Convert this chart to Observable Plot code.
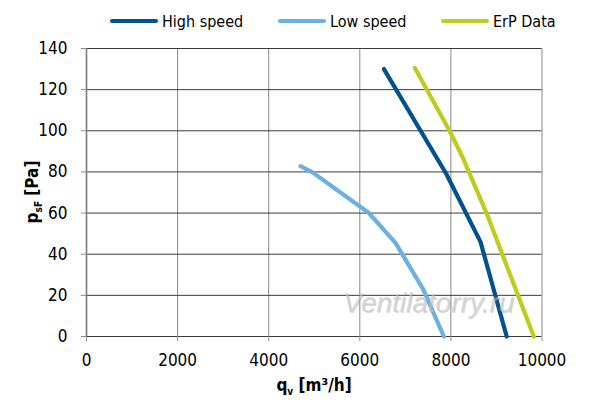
<!DOCTYPE html>
<html>
<head>
<meta charset="utf-8">
<script src="https://cdn.jsdelivr.net/npm/d3@7"></script>
<script src="https://cdn.jsdelivr.net/npm/@observablehq/plot@0.6"></script>
<style>
  body { margin: 0; background: #fff; }
  #wrap { position: relative; width: 600px; height: 406px; font-family: "DejaVu Sans Condensed", sans-serif; }
  #legend { position: relative; height: 40px; }
  .item { position: absolute; top: 10px; height: 22px; display: flex; align-items: center; font-size: 16px; color: #000; white-space: nowrap; }
  .sw { display: inline-block; width: 48px; height: 4px; border-radius: 2px; margin-right: 4px; }
  #wm { position: absolute; left: 343px; top: 287px; font-family: "Liberation Sans", Arial, sans-serif; font-style: italic; font-size: 28px; color: rgba(205,205,205,0.6); pointer-events: none; text-shadow: 1px 1px 0 rgba(140,140,140,0.35); }
</style>
</head>
<body>
<div id="wrap">
  <div id="legend"></div>
  <div id="chart"></div>
  <div id="wm">Ventilatorry.ru</div>
</div>
<script>
// ---- data ----
const seriesNames = ["High speed", "Low speed", "ErP Data"];
const seriesColors = ["#05508f", "#6cb0e2", "#bfcc1e"];

const highX = [6530, 7900, 8650, 9225];
const highY = [130, 79, 46, 0];

const lowX = [4698, 4955, 6200, 6784, 7390, 7845];
const lowY = [82.8, 79.9, 60.0, 45.5, 23.0, 0];

const erpX = [7207, 7970, 8260, 8782, 9820];
const erpY = [130.6, 100, 87, 60, 0];

const xTicks = [0, 2000, 4000, 6000, 8000, 10000];
const yTicks = [0, 20, 40, 60, 80, 100, 120, 140];

// ---- build table ----
const table = [];
[[highX, highY], [lowX, lowY], [erpX, erpY]].forEach(([xs, ys], i) => {
  xs.forEach((x, j) => table.push({series: seriesNames[i], q: x, p: ys[j]}));
});

// ---- legend ----
const legendLeft = [110, 278, 441];
const legend = document.getElementById("legend");
seriesNames.forEach((n, i) => {
  const it = document.createElement("div");
  it.className = "item";
  it.style.left = legendLeft[i] + "px";
  it.innerHTML = `<span class="sw" style="background:${seriesColors[i]}"></span><span>${n}</span>`;
  legend.appendChild(it);
});

// ---- chart ----
const chart = Plot.plot({
  width: 600,
  height: 366,
  marginTop: 8,
  marginBottom: 70,
  marginLeft: 86,
  marginRight: 58.5,
  style: {fontFamily: '"DejaVu Sans Condensed", sans-serif', fontSize: "17px", color: "#000", background: "#fff", overflow: "visible"},
  x: {domain: [0, 10000]},
  y: {domain: [0, 140]},
  color: {domain: seriesNames, range: seriesColors},
  marks: [
    Plot.gridX(xTicks, {stroke: "#8a8a8a", strokeOpacity: 1}),
    Plot.gridY(yTicks, {stroke: "#3a3a3a", strokeOpacity: 1}),
    Plot.axisX(xTicks, {tickSize: 5, tickPadding: 12, stroke: "#8a8a8a", label: null, tickFormat: d3.format("d")}),
    Plot.axisY(yTicks, {tickSize: 5, tickPadding: 14, stroke: "#8a8a8a", label: null, tickFormat: d3.format("d")}),
    Plot.ruleX([0], {stroke: "#7a7a7a", strokeWidth: 1.6}),
    Plot.line(table, {x: "q", y: "p", z: "series", stroke: "series", strokeWidth: 4.2, strokeLinecap: "round", strokeLinejoin: "round", curve: "linear"})
  ]
});
document.getElementById("chart").appendChild(chart);

// axis titles with subscripts
const svg = d3.select(chart);
const xt = svg.append("text")
  .attr("x", 314).attr("y", 351)
  .attr("text-anchor", "middle")
  .attr("font-weight", "bold")
  .attr("font-size", 17)
  .attr("fill", "#000");
xt.append("tspan").text("q");
xt.append("tspan").attr("font-size", 10).attr("dy", 4).text("v");
xt.append("tspan").attr("dy", -4).text(" [m³/h]");

const yt = svg.append("text")
  .attr("transform", "translate(38,152) rotate(-90)")
  .attr("text-anchor", "middle")
  .attr("font-weight", "bold")
  .attr("font-size", 17)
  .attr("fill", "#000");
yt.append("tspan").text("p");
yt.append("tspan").attr("font-size", 10).attr("dy", 4).text("sF");
yt.append("tspan").attr("dy", -4).text(" [Pa]");
</script>
</body>
</html>
